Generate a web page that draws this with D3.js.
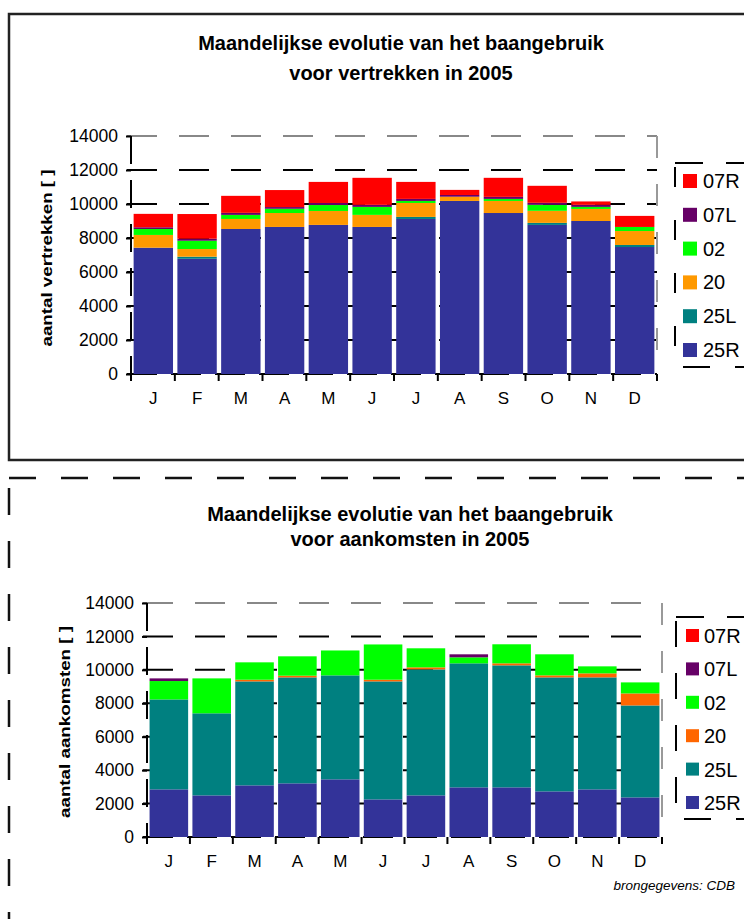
<!DOCTYPE html>
<html><head><meta charset="utf-8">
<script src="https://cdn.jsdelivr.net/npm/d3@7"></script>
<style>
html,body{margin:0;padding:0;background:#fff;}
svg{display:block;font-family:"Liberation Sans",Arial,sans-serif;}
</style></head>
<body>
<svg id="chart" width="744" height="919"></svg>
<script>
// ---------- data ----------
const months = ["J","F","M","A","M","J","J","A","S","O","N","D"];
const seriesKeys = ["25R","25L","20","02","07L","07R"];
const legendOrder = ["07R","07L","02","20","25L","25R"];
const yTicks = [0,2000,4000,6000,8000,10000,12000,14000];

// vertrekken (departures)
const dep25R = [7430,6780,8530,8650,8770,8650,9120,10180,9470,8770,9000,7470];
const dep25L = [0,120,0,0,0,0,120,0,0,120,0,120];
const dep20  = [750,450,590,820,820,710,820,250,710,710,710,820];
const dep02  = [350,490,240,250,350,470,120,0,120,350,120,240];
const dep07L = [100,120,120,100,120,120,120,100,120,120,120,0];
const dep07R = [790,1450,1000,1000,1240,1590,1000,300,1120,1000,200,650];

// aankomsten (arrivals)
const arr25R = [2850,2490,3090,3210,3450,2250,2490,2970,2970,2730,2850,2370];
const arr25L = [5380,4910,6220,6340,6220,7060,7540,7420,7300,6820,6700,5500];
const arr20  = [0,0,100,100,0,100,120,0,120,120,240,720];
const arr02  = [1100,2090,1040,1160,1490,2110,1140,360,1140,1260,420,660];
const arr07L = [160,0,0,0,0,0,0,180,0,0,0,0];
const arr07R = [0,0,0,0,0,0,0,0,0,0,0,0];

const colorsTop = {"25R":"#333399","25L":"#008080","20":"#FF9900","02":"#00FF00","07L":"#660066","07R":"#FF0000"};
const colorsBot = {"25R":"#333399","25L":"#008080","20":"#FF6600","02":"#00FF00","07L":"#660066","07R":"#FF0000"};

const svg = d3.select("#chart");

// ---------- panel frames ----------
svg.append("rect").attr("x",9).attr("y",14).attr("width",760).attr("height",446)
  .attr("fill","none").attr("stroke","#222").attr("stroke-width",2.5);
svg.append("line").attr("x1",9).attr("x2",744).attr("y1",478).attr("y2",478)
  .attr("stroke","#111").attr("stroke-width",2.5).attr("stroke-dasharray","27,25");
svg.append("line").attr("x1",9).attr("x2",9).attr("y1",488).attr("y2",919)
  .attr("stroke","#111").attr("stroke-width",2.5).attr("stroke-dasharray","27,26");

function build(cfg){
  const g = svg.append("g");
  const rows = months.map((m,i)=>{
    const r = {i:i, m:m};
    seriesKeys.forEach(k=>{ r[k] = cfg.data[k][i]; });
    return r;
  });
  const x = d3.scaleBand().domain(d3.range(12)).range([cfg.x0,cfg.x1]).paddingInner(0.1).paddingOuter(0.06);
  const y = d3.scaleLinear().domain([0,14000]).range([cfg.y0,cfg.y1]);

  // title
  cfg.title.forEach((t,j)=>{
    g.append("text").attr("x",cfg.titleX).attr("y",cfg.titleY[j]).attr("text-anchor","middle")
      .attr("font-size",20).attr("font-weight","bold").attr("fill","#000").text(t);
  });

  // gridlines
  yTicks.forEach(v=>{
    g.append("line").attr("x1",cfg.x0-4).attr("x2",cfg.x1).attr("y1",y(v)).attr("y2",y(v))
      .attr("stroke", v===14000 ? "#888" : "#000").attr("stroke-width",2)
      .attr("stroke-dasharray", v===0 ? "30,14" : "30,22");
  });
  // right plot border
  g.append("line").attr("x1",cfg.x1).attr("x2",cfg.x1).attr("y1",y(14000)).attr("y2",y(0))
    .attr("stroke","#999").attr("stroke-width",2).attr("stroke-dasharray","22,26");

  // bars
  const stack = d3.stack().keys(seriesKeys);
  const layers = stack(rows);
  g.selectAll("g.layer").data(layers).join("g").attr("class","layer")
    .attr("fill",d=>cfg.colors[d.key])
    .selectAll("rect").data(d=>d.filter(p=>p[1]-p[0]>0)).join("rect")
      .attr("x",d=>x(d.data.i)).attr("width",x.bandwidth())
      .attr("y",d=>y(d[1])).attr("height",d=>y(d[0])-y(d[1]));

  // y axis
  const ya = d3.axisLeft(y).tickValues(yTicks).tickSize(5).tickPadding(8).tickFormat(d3.format("d"));
  const yg = g.append("g").attr("transform",`translate(${cfg.x0},0)`).call(ya);
  yg.select(".domain").remove();
  yg.selectAll(".tick line").attr("stroke","#000").attr("stroke-width",2);
  yg.selectAll(".tick text").attr("font-size",17.5).attr("fill","#000")
    .attr("font-family","Liberation Sans, Arial, sans-serif");
  g.append("line").attr("x1",cfg.x0).attr("x2",cfg.x0).attr("y1",y(14000)).attr("y2",y(0)+6)
    .attr("stroke","#000").attr("stroke-width",2).attr("stroke-dasharray","28,16");

  // x axis ticks at band boundaries
  const step = (cfg.x1-cfg.x0)/12;
  d3.range(13).forEach(k=>{
    const xx = cfg.x0 + k*step;
    g.append("line").attr("x1",xx).attr("x2",xx).attr("y1",y(0)).attr("y2",y(0)+7)
      .attr("stroke","#000").attr("stroke-width",2);
  });
  const xa = d3.axisBottom(x).tickSize(0).tickPadding(18).tickFormat(i=>months[i]);
  const xg = g.append("g").attr("transform",`translate(0,${cfg.y0})`).call(xa);
  xg.select(".domain").remove();
  xg.selectAll(".tick text").attr("font-size",17).attr("fill","#000")
    .attr("font-family","Liberation Sans, Arial, sans-serif");

  // y axis title
  g.append("text").attr("transform",`translate(${cfg.ylabX},${cfg.ylabY}) rotate(-90)`)
    .attr("text-anchor","middle").attr("dy","0.35em").attr("font-size",15).attr("font-weight","bold")
    .attr("textLength",cfg.ylabLen).attr("lengthAdjust","spacingAndGlyphs")
    .attr("fill","#000").text(cfg.ylab);

  // legend
  const L = cfg.legend;
  g.append("line").attr("x1",L.fx).attr("x2",744).attr("y1",L.top).attr("y2",L.top)
    .attr("stroke","#000").attr("stroke-width",2).attr("stroke-dasharray","28,23");
  g.append("line").attr("x1",L.fx).attr("x2",L.fx).attr("y1",L.top+4).attr("y2",L.bottom-14)
    .attr("stroke","#000").attr("stroke-width",2).attr("stroke-dasharray",L.vdash);
  g.append("line").attr("x1",L.fx+8).attr("x2",744).attr("y1",L.bottom).attr("y2",L.bottom)
    .attr("stroke","#000").attr("stroke-width",2).attr("stroke-dasharray","27,25");
  legendOrder.forEach((k,j)=>{
    const cy = L.y0 + j*L.dy;
    g.append("rect").attr("x",L.sx).attr("y",cy-7).attr("width",L.ss).attr("height",L.ss).attr("fill",cfg.colors[k]);
    g.append("text").attr("x",L.tx).attr("y",cy+7).attr("font-size",20).attr("fill","#000").text(k);
  });
}

build({
  data:{"25R":dep25R,"25L":dep25L,"20":dep20,"02":dep02,"07L":dep07L,"07R":dep07R},
  colors:colorsTop, x0:131, x1:657, y0:374, y1:136,
  title:["Maandelijkse evolutie van het baangebruik","voor vertrekken in 2005"],
  titleX:401, titleY:[50,80],
  ylab:"aantal vertrekken [ ]", ylabX:47, ylabY:258, ylabLen:177,
  legend:{fx:675, top:163, bottom:367, vdash:"20,33", y0:181, dy:33.8, sx:683, ss:14, tx:703}
});
build({
  data:{"25R":arr25R,"25L":arr25L,"20":arr20,"02":arr02,"07L":arr07L,"07R":arr07R},
  colors:colorsBot, x0:147, x1:662, y0:837, y1:603,
  title:["Maandelijkse evolutie van het baangebruik","voor aankomsten in 2005"],
  titleX:410, titleY:[521,546],
  ylab:"aantal aankomsten [ ]", ylabX:65, ylabY:722, ylabLen:192,
  legend:{fx:676, top:617, bottom:819, vdash:"26,26", y0:636, dy:33.4, sx:686, ss:13, tx:704}
});

svg.append("text").attr("x",735).attr("y",890).attr("text-anchor","end")
  .attr("font-size",13.5).attr("font-style","italic").attr("fill","#000").text("brongegevens: CDB");
</script>
</body></html>
